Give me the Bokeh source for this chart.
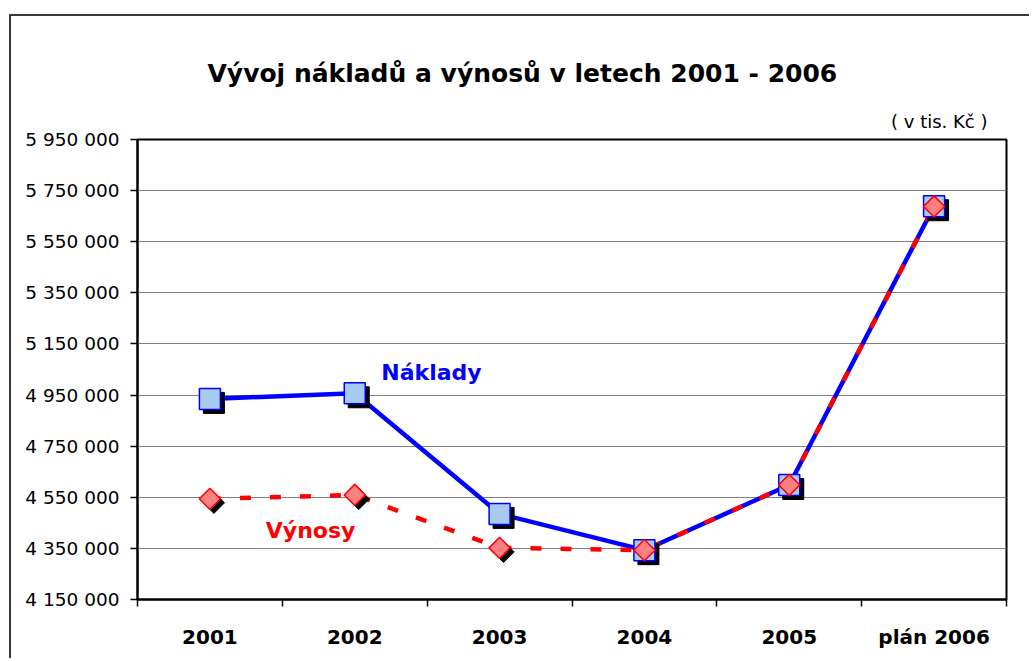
from math import pi
from bokeh.plotting import figure
from bokeh.models import Range1d, FixedTicker, Title, Label, ColumnDataSource
from bokeh.transform import dodge
from bokeh.embed import file_html
from bokeh.resources import INLINE

# ---- data ----
categories = ["2001", "2002", "2003", "2004", "2005", "plán 2006"]
naklady = [4935000, 4957000, 4485000, 4343000, 4598000, 5689000]
vynosy = [4544000, 4559000, 4352000, 4343000, 4598000, 5688000]
y_ticks = [4150000, 4350000, 4550000, 4750000, 4950000, 5150000, 5350000, 5550000, 5750000, 5950000]
y_tick_labels = ["4 150 000", "4 350 000", "4 550 000", "4 750 000", "4 950 000",
                 "5 150 000", "5 350 000", "5 550 000", "5 750 000", "5 950 000"]
title_text = "Vývoj nákladů a výnosů v letech 2001 - 2006"
unit_text = "( v tis. Kč )"
series_names = ["Náklady", "Výnosy"]

FONT = "DejaVu Sans"
W, H = 1020, 644
ML, MR, MT, MB = 126, 25, 123, 61
y_min, y_max = y_ticks[0], y_ticks[-1]
n = len(categories)

x_pos = [i + 0.5 for i in range(n)]
src = ColumnDataSource(dict(x=x_pos, nak=naklady, vyn=vynosy))

p = figure(width=W, height=H, output_backend="svg", toolbar_location=None,
           x_range=Range1d(0, n), y_range=Range1d(y_min, y_max),
           min_border_left=ML, min_border_right=MR, min_border_top=MT, min_border_bottom=MB,
           background_fill_color="white", border_fill_color="white")
p.margin = (14, 0, 0, 9)
p.styles = {"border-top": "2px solid #3a3a3a", "border-left": "2px solid #3a3a3a"}

p.outline_line_color = "black"
p.outline_line_width = 2

# titles
p.add_layout(Title(text=unit_text, align="right", offset=19, text_font=FONT,
                   text_font_size="18px", text_font_style="normal", text_color="black",
                   standoff=15), "above")
p.add_layout(Title(text=title_text, align="left", offset=70, text_font=FONT,
                   text_font_size="25px", text_font_style="bold", text_color="black",
                   standoff=27), "above")

# x axis
p.xaxis.ticker = FixedTicker(ticks=x_pos, minor_ticks=list(range(n + 1)))
p.xaxis.major_label_overrides = {x: c for x, c in zip(x_pos, categories)}
p.xaxis.major_tick_out = 0
p.xaxis.major_tick_in = 0
p.xaxis.minor_tick_out = 7
p.xaxis.minor_tick_in = 0
p.xaxis.minor_tick_line_color = "black"
p.xaxis.minor_tick_line_width = 1.5
p.xaxis.axis_line_color = "black"
p.xaxis.axis_line_width = 2
p.xaxis.major_label_standoff = 18
p.xaxis.major_label_text_font = FONT
p.xaxis.major_label_text_font_size = "20px"
p.xaxis.major_label_text_font_style = "bold"
p.xaxis.major_label_text_color = "black"
p.xgrid.visible = False

# y axis
p.yaxis.ticker = FixedTicker(ticks=y_ticks)
p.yaxis.major_label_overrides = {t: l for t, l in zip(y_ticks, y_tick_labels)}
p.yaxis.major_tick_out = 7
p.yaxis.major_tick_in = 0
p.yaxis.minor_tick_out = 0
p.yaxis.minor_tick_in = 0
p.yaxis.major_tick_line_color = "black"
p.yaxis.major_tick_line_width = 1.5
p.yaxis.axis_line_color = "black"
p.yaxis.axis_line_width = 2
p.yaxis.major_label_standoff = 11
p.yaxis.major_label_text_font = FONT
p.yaxis.major_label_text_font_size = "18.5px"
p.yaxis.major_label_text_color = "black"
p.ygrid.ticker = FixedTicker(ticks=y_ticks)
p.ygrid.grid_line_color = "#808080"
p.ygrid.grid_line_width = 1.2

# lines
p.line("x", "nak", source=src, line_color="#0000ff", line_width=4.5, line_join="round")
p.line("x", "vyn", source=src, line_color="#ff0000", line_width=4.5, line_dash="11 19")

# shadow offsets (4 px) converted to data units
fw = W - ML - MR
fh = H - MT - MB
dx = 4 * n / fw
dy = 4 * (y_max - y_min) / fh

p.scatter(dodge("x", dx), dodge("vyn", -dy), source=src, marker="square", angle=pi / 4,
          size=15, fill_color="black", line_color="black")
p.scatter(dodge("x", dx), dodge("nak", -dy), source=src, marker="square",
          size=21, fill_color="black", line_color="black")
p.scatter("x", "nak", source=src, marker="square", size=21, fill_color="#a6caf0",
          line_color="#0000ff", line_width=1.5)
p.scatter("x", "vyn", source=src, marker="square", angle=pi / 4, size=15,
          fill_color="#ff8080", line_color="#ff0000", line_width=1.5)

# series labels
p.add_layout(Label(x=2.03, y=5038000, text=series_names[0], text_align="center",
                   text_baseline="middle", text_font=FONT, text_font_size="22px",
                   text_font_style="bold", text_color="#0000ff"))
p.add_layout(Label(x=1.195, y=4420000, text=series_names[1], text_align="center",
                   text_baseline="middle", text_font=FONT, text_font_size="22px",
                   text_font_style="bold", text_color="#ff0000"))

open("out.html", "w").write(file_html(p, INLINE))
